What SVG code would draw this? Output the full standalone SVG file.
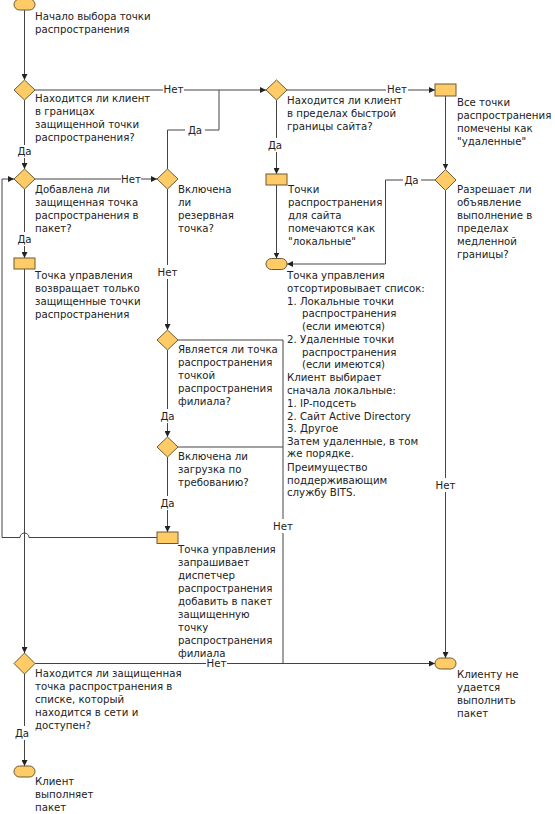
<svg xmlns="http://www.w3.org/2000/svg" width="555" height="814" viewBox="0 0 555 814">
<style>
.bg{fill:#fff}
.sh{fill:#ffcb66;stroke:#6b5a35;stroke-width:1}
.ln{fill:none;stroke:#444;stroke-width:1}
.la{fill:none;stroke:#444;stroke-width:1;marker-end:url(#ar)}
text{font-family:"DejaVu Sans","Verdana",sans-serif;font-size:10.2px;fill:#222}
.c{text-anchor:middle}
</style>
<defs>
<marker id="ar" viewBox="0 0 10 10" refX="10" refY="5" markerWidth="6" markerHeight="6" markerUnits="userSpaceOnUse" orient="auto">
<path d="M0,0 L10,5 L0,10 z" fill="#222"/>
</marker>
</defs>
<rect class="bg" x="0" y="0" width="555" height="814"/>
<g id="connectors">
<path class="la" d="M24.5,10 V80"/>
<path class="ln" d="M35,90 H163"/>
<path class="la" d="M184,90 H266"/>
<text class="c" x="173.5" y="93">Нет</text>
<path class="ln" d="M167.5,169 V130 H185"/>
<path class="ln" d="M205,130 H219 V90"/>
<text class="c" x="195" y="134">Да</text>
<path class="ln" d="M24.5,100 V145"/>
<path class="la" d="M24.5,158 V169"/>
<text class="c" x="24.5" y="155">Да</text>
<path class="ln" d="M35,179 H121"/>
<path class="la" d="M141,179 H157"/>
<text class="c" x="131" y="182.5">Нет</text>
<path class="ln" d="M24.5,189 V232"/>
<path class="la" d="M24.5,246 V258"/>
<text class="c" x="24.5" y="243">Да</text>
<path class="la" d="M24.5,269 V653"/>
<path class="ln" d="M167.5,189 V265"/>
<path class="la" d="M167.5,279 V330"/>
<text class="c" x="167.5" y="276">Нет</text>
<path class="ln" d="M167.5,350 V409"/>
<path class="la" d="M167.5,423 V437"/>
<text class="c" x="167.5" y="420">Да</text>
<path class="ln" d="M167.5,457 V496"/>
<path class="la" d="M167.5,510 V532"/>
<text class="c" x="167.5" y="507">Да</text>
<path class="la" d="M157,537.5 H29 A4.5,4.5 0 0 0 20,537.5 H2 V179 H14"/>
<path class="ln" d="M178,340 H283 V519"/>
<path class="ln" d="M283,533 V663.5"/>
<text class="c" x="283" y="530">Нет</text>
<path class="ln" d="M178,447 H283"/>
<path class="ln" d="M35,663.5 H206"/>
<path class="la" d="M227,663.5 H435"/>
<text class="c" x="216.5" y="667">Нет</text>
<path class="ln" d="M24.5,674 V726"/>
<path class="la" d="M24.5,740 V766"/>
<text class="c" x="22" y="737">Да</text>
<path class="ln" d="M287,90 H386"/>
<path class="la" d="M408,90 H435"/>
<text class="c" x="397" y="92.5">Нет</text>
<path class="ln" d="M276.5,100 V138"/>
<path class="la" d="M276.5,152 V174"/>
<text class="c" x="275" y="149">Да</text>
<path class="la" d="M276.5,185 V258.5"/>
<path class="la" d="M445.5,96 V169.5"/>
<path class="ln" d="M435,180 H421"/>
<path class="la" d="M403,180 H385.5 V264 H287"/>
<text class="c" x="411.5" y="183.5">Да</text>
<path class="ln" d="M445.5,190.5 V478"/>
<path class="la" d="M445.5,492 V658"/>
<text class="c" x="445.5" y="489">Нет</text>
</g>
<g id="start">
<rect class="sh" x="14" y="-1" width="21" height="11" rx="5.5"/>
<text x="35" y="20">Начало выбора точки</text>
<text x="35" y="33">распространения</text>
</g>
<g id="d1">
<polygon class="sh" points="24.5,80 35,90 24.5,100 14,90"/>
<text x="35" y="102">Находится ли клиент</text>
<text x="35" y="115">в границах</text>
<text x="35" y="128">защищенной точки</text>
<text x="35" y="141">распространения?</text>
</g>
<g id="d4">
<polygon class="sh" points="24.5,169 35,179 24.5,189 14,179"/>
<text x="35" y="193">Добавлена ли</text>
<text x="35" y="206">защищенная точка</text>
<text x="35" y="219">распространения в</text>
<text x="35" y="232">пакет?</text>
</g>
<g id="r1">
<rect class="sh" x="14" y="258" width="21" height="11"/>
<text x="35" y="279">Точка управления</text>
<text x="35" y="292">возвращает только</text>
<text x="35" y="305">защищенные точки</text>
<text x="35" y="318">распространения</text>
</g>
<g id="d8">
<polygon class="sh" points="24.5,653 35,663.5 24.5,674 14,663.5"/>
<text x="35" y="677">Находится ли защищенная</text>
<text x="35" y="690">точка распространения в</text>
<text x="35" y="703">списке, который</text>
<text x="35" y="716">находится в сети и</text>
<text x="35" y="729">доступен?</text>
</g>
<g id="end-ok">
<rect class="sh" x="14" y="766" width="21" height="11" rx="5.5"/>
<text x="35" y="785">Клиент</text>
<text x="35" y="798">выполняет</text>
<text x="35" y="811">пакет</text>
</g>
<g id="d5">
<polygon class="sh" points="167.5,169 178,179 167.5,189 157,179"/>
<text x="178" y="193">Включена</text>
<text x="178" y="206">ли</text>
<text x="178" y="219">резервная</text>
<text x="178" y="232">точка?</text>
</g>
<g id="d6">
<polygon class="sh" points="167.5,330 178,340 167.5,350 157,340"/>
<text x="178" y="353">Является ли точка</text>
<text x="178" y="366">распространения</text>
<text x="178" y="379">точкой</text>
<text x="178" y="392">распространения</text>
<text x="178" y="405">филиала?</text>
</g>
<g id="d7">
<polygon class="sh" points="167.5,437 178,447 167.5,457 157,447"/>
<text x="178" y="460">Включена ли</text>
<text x="178" y="473">загрузка по</text>
<text x="178" y="486">требованию?</text>
</g>
<g id="r2">
<rect class="sh" x="157" y="532" width="21" height="11.5"/>
<text x="178" y="553">Точка управления</text>
<text x="178" y="566">запрашивает</text>
<text x="178" y="579">диспетчер</text>
<text x="178" y="592">распространения</text>
<text x="178" y="605">добавить в пакет</text>
<text x="178" y="618">защищенную</text>
<text x="178" y="631">точку</text>
<text x="178" y="644">распространения</text>
<text x="178" y="657">филиала</text>
</g>
<g id="d2">
<polygon class="sh" points="276.5,80 287,90 276.5,100 266,90"/>
<text x="287" y="104">Находится ли клиент</text>
<text x="287" y="117">в пределах быстрой</text>
<text x="287" y="130">границы сайта?</text>
</g>
<g id="rloc">
<rect class="sh" x="266" y="174" width="21" height="11"/>
<text x="288" y="193">Точки</text>
<text x="288" y="206">распространения</text>
<text x="288" y="219">для сайта</text>
<text x="288" y="232">помечаются как</text>
<text x="288" y="245">"локальные"</text>
</g>
<g id="oloc">
<rect class="sh" x="266" y="258.5" width="21" height="11" rx="5.5"/>
<text x="287" y="279">Точка управления</text>
<text x="287" y="292">отсортировывает список:</text>
<text x="287" y="305">1. Локальные точки</text>
<text x="302" y="317">распространения</text>
<text x="302" y="330">(если имеются)</text>
<text x="287" y="343">2. Удаленные точки</text>
<text x="302" y="356">распространения</text>
<text x="302" y="368">(если имеются)</text>
<text x="287" y="381">Клиент выбирает</text>
<text x="287" y="394">сначала локальные:</text>
<text x="287" y="407">1. IP-подсеть</text>
<text x="287" y="420">2. Сайт Active Directory</text>
<text x="287" y="432">3. Другое</text>
<text x="287" y="445">Затем удаленные, в том</text>
<text x="287" y="457">же порядке.</text>
<text x="287" y="471">Преимущество</text>
<text x="287" y="484">поддерживающим</text>
<text x="287" y="496">службу BITS.</text>
</g>
<g id="r3">
<rect class="sh" x="435" y="84" width="21" height="12"/>
<text x="457" y="106">Все точки</text>
<text x="457" y="119">распространения</text>
<text x="457" y="132">помечены как</text>
<text x="457" y="145">"удаленные"</text>
</g>
<g id="d3">
<polygon class="sh" points="445.5,169.5 456,180 445.5,190.5 435,180"/>
<text x="457" y="193">Разрешает ли</text>
<text x="457" y="206">объявление</text>
<text x="457" y="219">выполнение в</text>
<text x="457" y="232">пределах</text>
<text x="457" y="245">медленной</text>
<text x="457" y="258">границы?</text>
</g>
<g id="end-fail">
<rect class="sh" x="435" y="658" width="21" height="11" rx="5.5"/>
<text x="457" y="678">Клиенту не</text>
<text x="457" y="691">удается</text>
<text x="457" y="704">выполнить</text>
<text x="457" y="717">пакет</text>
</g>
</svg>
